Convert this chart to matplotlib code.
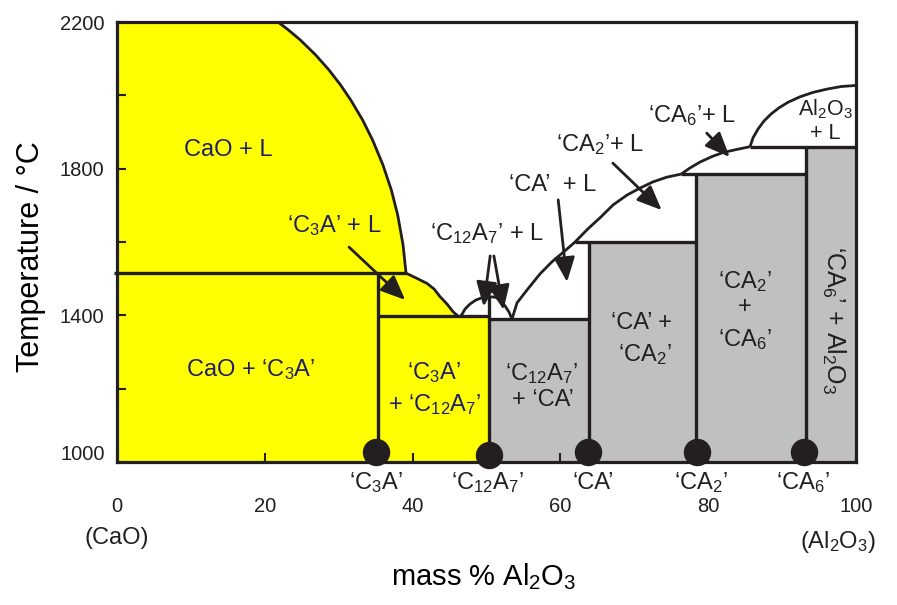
import matplotlib
matplotlib.use("Agg")
import matplotlib.pyplot as plt
from matplotlib.transforms import ScaledTranslation

plt.rcParams['font.family'] = ['Liberation Sans', 'DejaVu Sans']
plt.rcParams['mathtext.fontset'] = 'custom'
plt.rcParams['mathtext.rm'] = 'Liberation Sans'
plt.rcParams['mathtext.it'] = 'Liberation Sans:italic'
plt.rcParams['mathtext.default'] = 'regular'

# ---------------- data (mass % Al2O3, temperature / degC) ----------------
compounds = ["‘C$_3$A’", "‘C$_{12}$A$_7$’", "‘CA’", "‘CA$_2$’", "‘CA$_6$’"]
comp_x = [35.3, 50.3, 63.9, 78.3, 93.2]
dot_x = [35.0, 50.3, 63.7, 78.5, 93.0]
dot_T = [1027, 1020, 1027, 1027, 1027]

# CaO liquidus
cao_liq_x = [21.79, 23.21, 24.80, 26.89, 28.69, 30.26, 31.64, 33.23, 34.59,
             35.99, 37.12, 37.98, 38.71, 39.11]
cao_liq_T = [2200, 2178, 2151, 2110, 2069, 2028, 1987, 1933, 1878,
             1810, 1742, 1674, 1592, 1515]
# C3A liquidus (peritectic -> eutectic)
c3a_liq_x = [39.11, 40.46, 41.95, 42.90, 43.71, 44.65, 45.47, 46.14]
c3a_liq_T = [1515, 1502, 1487, 1472, 1451, 1431, 1410, 1398]
# C12A7 liquidus hump
c12_liq_x = [46.55, 47.09, 47.77, 48.58, 49.53, 50.47, 51.29, 51.96, 52.50, 53.04, 53.45]
c12_liq_T = [1398, 1417, 1431, 1442, 1449, 1451, 1449, 1439, 1426, 1409, 1390]
# CA liquidus
ca_liq_x = [53.45, 54.13, 55.48, 57.24, 58.86, 60.62, 61.98, 63.73, 65.36,
            67.12, 69.01, 70.77, 72.53, 74.42, 76.32]
ca_liq_T = [1390, 1434, 1469, 1513, 1546, 1576, 1600, 1636, 1666,
            1701, 1728, 1747, 1764, 1777, 1785]
# CA2 liquidus
ca2_liq_x = [76.32, 77.54, 78.89, 80.51, 82.00, 83.76, 85.66]
ca2_liq_T = [1785, 1802, 1818, 1833, 1844, 1852, 1860]
# Al2O3 liquidus
al_liq_x = [85.66, 86.06, 86.74, 87.55, 88.50, 89.58, 90.80, 92.42, 94.18, 96.08, 97.97, 100.0]
al_liq_T = [1860, 1884, 1908, 1930, 1949, 1966, 1981, 1996, 2008, 2017, 2024, 2027]

T_peritectic_C3A = 1515
T_eut_C3A_C12A7 = 1398
T_eut_C12A7_CA = 1390
T_CA = 1600
T_CA2 = 1785
T_CA6 = 1860

# gray two-solid fields: left edge, right edge, top temperature
gray_left = [50.3, 63.9, 78.3, 93.2]
gray_right = [63.9, 78.3, 93.2, 100.0]
gray_top = [1390, 1600, 1785, 1860]

# arrows: (tail x, tail T, head x, head T)
arrows = [
    (31.4, 1586, 39.0, 1442),
    (50.5, 1562, 49.6, 1424),
    (51.0, 1562, 52.3, 1415),
    (59.7, 1715, 60.9, 1491),
    (67.1, 1815, 73.7, 1687),
    (79.8, 1897, 82.9, 1832),
]

yticks = [1000, 1200, 1400, 1600, 1800, 2000, 2200]
ytick_labels = ['1000', '', '1400', '', '1800', '', '2200']
xticks = [0, 20, 40, 60, 80, 100]
xtick_labels = ['0', '20', '40', '60', '80', '100']

# ---------------- figure ----------------
LC = '#231f20'
YEL = '#ffff00'
GRY = '#c0c0c0'
NAVY = '#1e1e6e'

fig = plt.figure(figsize=(8.97, 6.05), dpi=100)
ax = fig.add_axes([117/897, 1 - 462/605, (856-117)/897, (462-22)/605])
ax.set_xlim(0, 100)
ax.set_ylim(1000, 2200)

# yellow area (CaO-rich side)
yel_x = [0, 0] + cao_liq_x + c3a_liq_x[1:] + [comp_x[1], comp_x[1]]
yel_T = [1000, 2200] + cao_liq_T + c3a_liq_T[1:] + [T_eut_C3A_C12A7, 1000]
ax.fill(yel_x, yel_T, color=YEL, lw=0, zorder=1)

# gray two-solid fields
for l, r, t in zip(gray_left, gray_right, gray_top):
    ax.bar(l, t - 1000, width=r - l, bottom=1000, align='edge', color=GRY, lw=0, zorder=1)

lw_s = 2.4
lw_c = 2.0
kw = dict(color=LC, solid_capstyle='butt', solid_joinstyle='round', zorder=3)
# liquidus curves
ax.plot(cao_liq_x, cao_liq_T, lw=lw_c, **kw)
ax.plot(c3a_liq_x, c3a_liq_T, lw=lw_c, **kw)
ax.plot(c12_liq_x, c12_liq_T, lw=lw_c, **kw)
ax.plot(ca_liq_x, ca_liq_T, lw=lw_c, **kw)
ax.plot(ca2_liq_x, ca2_liq_T, lw=lw_c, **kw)
ax.plot(al_liq_x, al_liq_T, lw=lw_c, **kw)

# horizontal invariant lines
ax.plot([-0.4, cao_liq_x[-1]], [T_peritectic_C3A]*2, lw=lw_s, clip_on=False, **kw)
ax.plot([comp_x[0], comp_x[1]], [T_eut_C3A_C12A7]*2, lw=lw_s, **kw)
ax.plot([comp_x[1], comp_x[2]], [T_eut_C12A7_CA]*2, lw=lw_s, **kw)
ax.plot([ca_liq_x[6], comp_x[3]], [T_CA]*2, lw=lw_s, **kw)
ax.plot([ca2_liq_x[0], comp_x[4]], [T_CA2]*2, lw=lw_s, **kw)
ax.plot([al_liq_x[0], 100], [T_CA6]*2, lw=lw_s, **kw)

# compound verticals
vert_tops = [T_peritectic_C3A, max(c12_liq_T), T_CA, T_CA2, T_CA6]
for cx, top in zip(comp_x, vert_tops):
    ax.plot([cx, cx], [1000, top], lw=lw_s, **kw)

# compound dots
ax.scatter(dot_x, dot_T, s=390, color=LC, zorder=6, clip_on=False, lw=0)

# arrows
for tx, tT, hx, hT in arrows:
    ax.annotate('', xy=(hx, hT), xytext=(tx, tT),
                arrowprops=dict(arrowstyle='-|>,head_length=0.75,head_width=0.32',
                                color=LC, lw=2.0, shrinkA=0, shrinkB=0,
                                mutation_scale=20), zorder=5)

# spines & ticks
for s in ax.spines.values():
    s.set_linewidth(2.3)
    s.set_color(LC)
    s.set_zorder(4)
ax.set_yticks(yticks)
ax.set_yticklabels(ytick_labels)
ax.set_xticks(xticks)
ax.set_xticklabels(xtick_labels)
ax.tick_params(axis='both', direction='in', length=6.5, width=1.5, color=LC,
               labelsize=14.5, labelcolor=LC)
ax.tick_params(axis='x', pad=25)
ax.tick_params(axis='y', pad=9)
lbl = ax.get_yticklabels()[0]
lbl.set_transform(lbl.get_transform() + ScaledTranslation(0, 9/100, fig.dpi_scale_trans))

# region labels
fs = 17
ax.text(15.0, 1851, 'CaO + L', fontsize=fs, color=NAVY, ha='center', va='center', zorder=7)
ax.text(29.4, 1644, '‘C$_3$A’ + L', fontsize=fs, color=NAVY, ha='center', va='center', zorder=7)
ax.text(18.1, 1251, 'CaO + ‘C$_3$A’', fontsize=fs, color=NAVY, ha='center', va='center', zorder=7)
ax.text(42.9, 1245, '‘C$_3$A’', fontsize=fs, color=NAVY, ha='center', va='center', zorder=7)
ax.text(43.0, 1158, '+ ‘C$_{12}$A$_7$’', fontsize=fs, color=NAVY, ha='center', va='center', zorder=7)
ax.text(57.4, 1240, '‘C$_{12}$A$_7$’', fontsize=fs, color=LC, ha='center', va='center', zorder=7)
ax.text(57.6, 1169, '+ ‘CA’', fontsize=fs, color=LC, ha='center', va='center', zorder=7)
ax.text(70.9, 1379, '‘CA’ +', fontsize=fs, color=LC, ha='center', va='center', zorder=7)
ax.text(71.4, 1292, '‘CA$_2$’', fontsize=fs, color=LC, ha='center', va='center', zorder=7)
ax.text(85.0, 1491, '‘CA$_2$’', fontsize=fs, color=LC, ha='center', va='center', zorder=7)
ax.text(85.0, 1423, '+', fontsize=fs, color=LC, ha='center', va='center', zorder=7)
ax.text(85.0, 1333, '‘CA$_6$’', fontsize=fs, color=LC, ha='center', va='center', zorder=7)
ax.text(97.0, 1387, '‘CA$_6$’ + Al$_2$O$_3$', fontsize=18, color=LC, ha='center', va='center',
        rotation=-90, zorder=7)
ax.text(95.9, 1963, 'Al$_2$O$_3$', fontsize=15.5, color=LC, ha='center', va='center', zorder=7)
ax.text(95.9, 1897, '+ L', fontsize=15.5, color=LC, ha='center', va='center', zorder=7)
ax.text(77.8, 1944, '‘CA$_6$’+ L', fontsize=fs, color=LC, ha='center', va='center', zorder=7)
ax.text(65.4, 1865, '‘CA$_2$’+ L', fontsize=fs, color=LC, ha='center', va='center', zorder=7)
ax.text(58.9, 1755, '‘CA’  + L', fontsize=fs, color=LC, ha='center', va='center', zorder=7)
ax.text(50.1, 1622, '‘C$_{12}$A$_7$’ + L', fontsize=fs, color=LC, ha='center', va='center', zorder=7)

# compound labels under axis
label_x = [35.0, 50.2, 64.4, 79.0, 92.8]
for lx, name in zip(label_x, compounds):
    ax.text(lx, 943, name, fontsize=fs, color=LC, ha='center', va='center', clip_on=False)

ax.text(0, 793, '(CaO)', fontsize=fs, color=LC, ha='center', va='center', clip_on=False)
ax.text(97.6, 782, '(Al$_2$O$_3$)', fontsize=fs, color=LC, ha='center', va='center', clip_on=False)

fig.text(484/897, 1 - 577/605, 'mass % Al$_2$O$_3$', fontsize=21, color='black',
         ha='center', va='center')
fig.text(31/897, 1 - 257/605, 'Temperature / °C', fontsize=22, color='black',
         ha='center', va='center', rotation=90)

fig.savefig('out.png', dpi=100)
